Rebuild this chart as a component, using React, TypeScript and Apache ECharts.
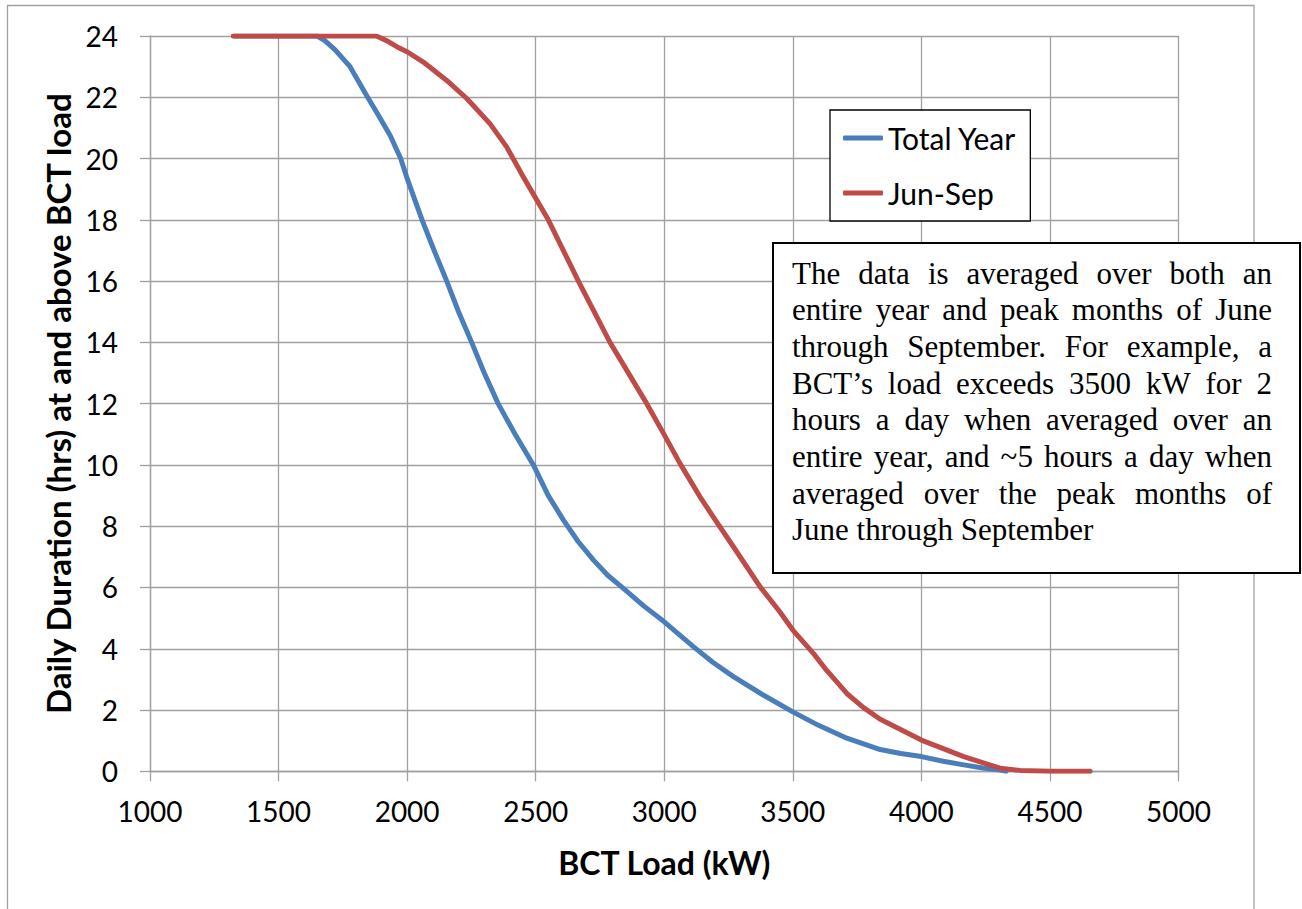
import React, { useEffect, useRef } from "react";
import * as echarts from "echarts";

// ---- Data ----
const totalYearLoad = [1330, 1650, 1680, 1720, 1778, 1843, 1882, 1934, 1975, 2000, 2058, 2105, 2154, 2200, 2251, 2300, 2354, 2420, 2491, 2549, 2608, 2665, 2724, 2780, 2841, 2920, 3000, 3113, 3190, 3269, 3385, 3500, 3600, 3710, 3840, 3920, 4000, 4085, 4165, 4240, 4306, 4330];
const totalYearHours = [24, 24, 23.85, 23.55, 23.0, 22.05, 21.5, 20.75, 20.0, 19.35, 18.0, 17.0, 16.0, 15.0, 14.0, 13.0, 12.0, 11.0, 10.0, 9.0, 8.2, 7.5, 6.9, 6.4, 5.97, 5.4, 4.88, 4.07, 3.55, 3.09, 2.49, 1.94, 1.5, 1.08, 0.71, 0.58, 0.48, 0.33, 0.21, 0.11, 0.04, 0];

const junSepLoad = [1324, 1880, 1920, 1960, 2003, 2063, 2154, 2232, 2322, 2387, 2452, 2549, 2666, 2789, 2932, 2997, 3061, 3139, 3191, 3269, 3373, 3450, 3500, 3580, 3631, 3710, 3775, 3840, 4000, 4165, 4306, 4384, 4500, 4656];
const junSepHours = [24, 24, 23.85, 23.65, 23.47, 23.15, 22.55, 21.96, 21.14, 20.38, 19.4, 18, 16, 14, 12, 11.03, 10.05, 8.96, 8.3, 7.33, 6.02, 5.2, 4.61, 3.85, 3.3, 2.54, 2.08, 1.7, 1.02, 0.48, 0.1, 0.03, 0, 0];

const seriesNames = ["Total Year", "Jun-Sep"];
const xAxisTitle = "BCT Load (kW)";
const yAxisTitle = "Daily Duration (hrs) at and above BCT load";

const noteLines = [
  "The data is averaged over both an",
  "entire year and peak months of June",
  "through September. For example, a",
  "BCT\u2019s load exceeds 3500 kW for 2",
  "hours a day when averaged over an",
  "entire year, and ~5 hours a day when",
  "averaged over the peak months of",
  "June through September",
];

const BLUE = "#4A7EBB";
const RED = "#BE4B48";
const GRID = "#A0A0A0";
const SANS = "Lato, 'Open Sans', sans-serif";
const SERIF = "'Liberation Serif', 'Times New Roman', serif";

function buildNote(): any[] {
  const fontSize = 31;
  const canvas = document.createElement("canvas");
  const ctx = canvas.getContext("2d") as CanvasRenderingContext2D;
  ctx.font = `${fontSize}px "Liberation Serif"`;
  const left = 792;
  const right = 1272;
  const top0 = 273;
  const lh = 36.7;
  const els: any[] = [];
  const textStyle = (t: string) => ({
    text: t,
    fontSize,
    fontFamily: SERIF,
    fill: "#000",
    verticalAlign: "middle",
    align: "left",
  });
  noteLines.forEach((line, i) => {
    const y = top0 + i * lh;
    if (i === noteLines.length - 1) {
      els.push({ type: "text", x: left, y, z: 101, style: textStyle(line) });
      return;
    }
    const words = line.split(" ");
    const widths = words.map((w) => ctx.measureText(w).width);
    const total = widths.reduce((a, b) => a + b, 0);
    const gap = (right - left - total) / (words.length - 1);
    let x = left;
    words.forEach((w, j) => {
      els.push({ type: "text", x, y, z: 101, style: textStyle(w) });
      x += widths[j] + gap;
    });
  });
  return els;
}

export default function App() {
  const ref = useRef<HTMLDivElement>(null);

  useEffect(() => {
    if (!ref.current) return;
    const chart = echarts.init(ref.current, undefined, { renderer: "svg" });

    const axisLabel = { fontSize: 28, fontFamily: SANS, color: "#000", formatter: (v: number) => String(v) };
    const nameStyle = { fontSize: 32, fontFamily: SANS, fontWeight: "bold", color: "#000" };

    chart.setOption({
      animation: false,
      backgroundColor: "#fff",
      grid: { left: 150, right: 123.5, top: 36, bottom: 137.7, containLabel: false, outerBoundsMode: "none" },
      legend: {
        left: 830,
        top: 110,
        orient: "vertical",
        backgroundColor: "#fff",
        borderColor: "#000",
        borderWidth: 1.3,
        padding: [12, 14, 12, 13],
        itemWidth: 40,
        itemHeight: 5,
        itemGap: 23,
        icon: "roundRect",
        textStyle: { fontSize: 30, fontFamily: SANS, color: "#000", lineHeight: 32 },
        data: seriesNames,
        z: 50,
      },
      xAxis: {
        type: "value",
        min: 1000,
        max: 5000,
        interval: 500,
        axisLine: { show: true, onZero: false, lineStyle: { color: GRID, width: 1.3 } },
        axisTick: { show: true, length: 10, lineStyle: { color: GRID, width: 1.3 } },
        splitLine: { show: true, lineStyle: { color: GRID, width: 1.3 } },
        axisLabel: { ...axisLabel, margin: 26 },
        name: xAxisTitle,
        nameLocation: "middle",
        nameGap: 75,
        nameTextStyle: nameStyle,
      },
      yAxis: {
        type: "value",
        min: 0,
        max: 24,
        interval: 2,
        axisLine: { show: true, onZero: false, lineStyle: { color: GRID, width: 1.3 } },
        axisTick: { show: true, length: 10, lineStyle: { color: GRID, width: 1.3 } },
        splitLine: { show: true, lineStyle: { color: GRID, width: 1.3 } },
        axisLabel: { ...axisLabel, margin: 32 },
        name: yAxisTitle,
        nameLocation: "middle",
        nameGap: 71,
        nameTextStyle: { ...nameStyle, fontSize: 33 },
      },
      series: [
        {
          type: "line",
          name: seriesNames[0],
          data: totalYearLoad.map((x, i) => [x, totalYearHours[i]]),
          showSymbol: false,
          symbol: "none",
          smooth: false,
          color: BLUE,
          lineStyle: { width: 5, color: BLUE, join: "round", cap: "round" },
          itemStyle: { color: BLUE },
          z: 2,
        },
        {
          type: "line",
          name: seriesNames[1],
          data: junSepLoad.map((x, i) => [x, junSepHours[i]]),
          showSymbol: false,
          symbol: "none",
          smooth: false,
          color: RED,
          lineStyle: { width: 5, color: RED, join: "round", cap: "round" },
          itemStyle: { color: RED },
          z: 3,
        },
      ],
      graphic: [
        {
          type: "rect",
          z: 100,
          shape: { x: 7.5, y: 5.5, width: 1246.5, height: 1000 },
          style: { fill: "none", stroke: GRID, lineWidth: 1.3 },
          silent: true,
        },
        {
          type: "rect",
          z: 100,
          shape: { x: 773, y: 243, width: 527, height: 330 },
          style: { fill: "#fff", stroke: "#000", lineWidth: 2 },
          silent: true,
        },
        ...buildNote(),
      ],
    });

    return () => chart.dispose();
  }, []);

  return (
    <div
      ref={ref}
      style={{ position: "absolute", left: 0, top: 0, width: 1302, height: 909 }}
    />
  );
}
